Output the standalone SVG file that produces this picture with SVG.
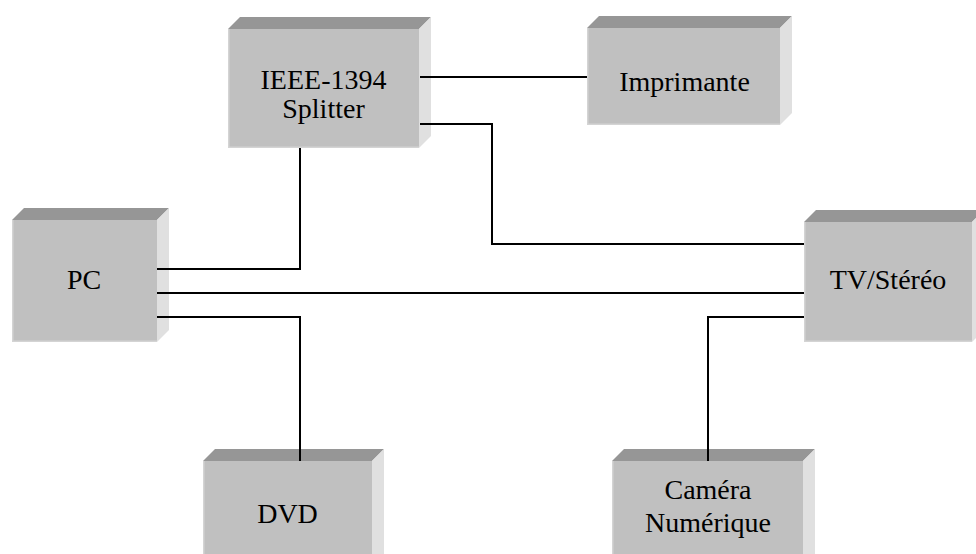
<svg xmlns="http://www.w3.org/2000/svg" width="976" height="554" viewBox="0 0 976 554">
<defs>
<style>
.front{fill:#C0C0C0}
.top{fill:#969696}
.side{fill:#E0E0E0}
.hl{fill:none;stroke:#D4D4D4;stroke-width:1.5}
.lbl{font-family:"Liberation Serif","Times New Roman",serif;font-size:28px;fill:#000;text-anchor:middle}
.wire{fill:none;stroke:#000;stroke-width:2}
</style>
</defs>
<rect width="976" height="554" fill="#fff"/>
<g id="splitter">
<polygon class="top" points="228,29 240,17 431,17 419,29"/>
<polygon class="side" points="419,29 431,17 431,136 419,148"/>
<rect class="front" x="228" y="29" width="191" height="119"/>
<polyline class="hl" points="228.75,29 228.75,147.25 419,147.25"/>
<text class="lbl" x="323.5" y="89">IEEE-1394</text>
<text class="lbl" x="323.5" y="118">Splitter</text>
</g>
<g id="imprimante">
<polygon class="top" points="587,28 599,16 792,16 780,28"/>
<polygon class="side" points="780,28 792,16 792,113 780,125"/>
<rect class="front" x="587" y="28" width="193" height="97"/>
<polyline class="hl" points="587.75,28 587.75,124.25 780,124.25"/>
<text class="lbl" x="684.5" y="91">Imprimante</text>
</g>
<g id="pc">
<polygon class="top" points="12,220 24,208 169,208 157,220"/>
<polygon class="side" points="157,220 169,208 169,330 157,342"/>
<rect class="front" x="12" y="220" width="145" height="122"/>
<polyline class="hl" points="12.75,220 12.75,341.25 157,341.25"/>
<text class="lbl" x="84" y="289">PC</text>
</g>
<g id="tv">
<polygon class="top" points="804,222 816,210 984,210 972,222"/>
<polygon class="side" points="972,222 984,210 984,330 972,342"/>
<rect class="front" x="804" y="222" width="168" height="120"/>
<polyline class="hl" points="804.75,222 804.75,341.25 972,341.25"/>
<text class="lbl" x="888" y="289">TV/Stéréo</text>
</g>
<g id="dvd">
<polygon class="top" points="203,461 215,449 384,449 372,461"/>
<polygon class="side" points="372,461 384,449 384,554 372,566"/>
<rect class="front" x="203" y="461" width="169" height="100"/>
<line class="hl" x1="203.75" y1="461" x2="203.75" y2="561"/>
<text class="lbl" x="287.5" y="523">DVD</text>
</g>
<g id="camera">
<polygon class="top" points="612,461 624,449 815,449 803,461"/>
<polygon class="side" points="803,461 815,449 815,554 803,566"/>
<rect class="front" x="612" y="461" width="191" height="100"/>
<line class="hl" x1="612.75" y1="461" x2="612.75" y2="561"/>
<text class="lbl" x="708" y="499">Caméra</text>
<text class="lbl" x="708" y="532">Numérique</text>
</g>
<g id="connectors">
<path class="wire" d="M420 77 H587"/>
<path class="wire" d="M420 124 H492 V244 H804"/>
<path class="wire" d="M300 148 V269 H157"/>
<path class="wire" d="M157 293 H804"/>
<path class="wire" d="M157 317 H300 V461"/>
<path class="wire" d="M804 317 H708 V461"/>
</g>
</svg>
